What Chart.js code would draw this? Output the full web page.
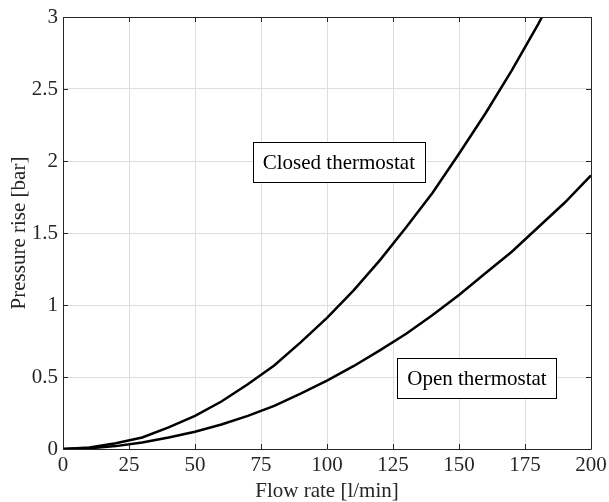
<!DOCTYPE html>
<html>
<head>
<meta charset="utf-8">
<script src="https://cdn.jsdelivr.net/npm/chart.js@4/dist/chart.umd.min.js"></script>
<style>
html,body{margin:0;padding:0;background:#fff;}
#wrap{width:609px;height:502px;}
</style>
</head>
<body>
<div id="wrap"><canvas id="c" width="609" height="502"></canvas></div>
<script>
const flowRate = [0,10,20,30,40,50,60,70,80,90,100,110,120,130,140,150,160,170,180,182];
const closedThermostat = [0,0.01,0.04,0.08,0.15,0.23,0.33,0.45,0.58,0.74,0.91,1.10,1.31,1.54,1.78,2.05,2.33,2.63,2.95,3.02];
const flowRateOpen = [0,10,20,30,40,50,60,70,80,90,100,110,120,130,140,150,160,170,180,190,200];
const openThermostat = [0,0.005,0.02,0.045,0.08,0.12,0.17,0.23,0.30,0.385,0.475,0.575,0.685,0.80,0.93,1.07,1.22,1.37,1.54,1.71,1.9];
const xTicks = [0,25,50,75,100,125,150,175,200];
const yTicks = [0,0.5,1,1.5,2,2.5,3];
const labels = [
  {text:'Closed thermostat', x:104.5, y:1.99},
  {text:'Open thermostat', x:156.8, y:0.49}
];

const FONT = '"Liberation Serif","Times New Roman",serif';
const AXC = '#262626';

const boxPlugin = {
  id:'boxPlugin',
  afterDatasetsDraw(chart){
    const ctx = chart.ctx, a = chart.chartArea;
    const xs = chart.scales.x, ys = chart.scales.y;
    ctx.save();
    ctx.strokeStyle = AXC; ctx.lineWidth = 1;
    ctx.beginPath();
    ctx.rect(Math.round(a.left)+0.5, Math.round(a.top)+0.5, Math.round(a.right-a.left), Math.round(a.bottom-a.top));
    ctx.stroke();
    ctx.beginPath();
    xTicks.forEach(v=>{
      const px = Math.round(xs.getPixelForValue(v))+0.5;
      ctx.moveTo(px,a.bottom); ctx.lineTo(px,a.bottom-5);
      ctx.moveTo(px,a.top); ctx.lineTo(px,a.top+5);
    });
    yTicks.forEach(v=>{
      const py = Math.round(ys.getPixelForValue(v))+0.5;
      ctx.moveTo(a.left,py); ctx.lineTo(a.left+5,py);
      ctx.moveTo(a.right,py); ctx.lineTo(a.right-5,py);
    });
    ctx.stroke();
    ctx.font = '21px '+FONT;
    ctx.textAlign='center'; ctx.textBaseline='middle';
    labels.forEach(l=>{
      const cx = xs.getPixelForValue(l.x), cy = ys.getPixelForValue(l.y);
      const w = ctx.measureText(l.text).width + 20, h = 40;
      ctx.fillStyle='#fff';
      ctx.fillRect(cx-w/2, cy-h/2, w, h);
      ctx.strokeStyle='#000'; ctx.lineWidth=1;
      ctx.strokeRect(Math.round(cx-w/2)+0.5, Math.round(cy-h/2)+0.5, Math.round(w), h);
      ctx.fillStyle='#000';
      ctx.fillText(l.text, cx, cy+1);
    });
    ctx.restore();
  }
};

new Chart(document.getElementById('c'), {
  type:'line',
  data:{
    datasets:[
      {label:'Closed thermostat', data:flowRate.map((x,i)=>({x, y:closedThermostat[i]})), borderColor:'#000', borderWidth:2.5, pointRadius:0, tension:0, fill:false},
      {label:'Open thermostat', data:flowRateOpen.map((x,i)=>({x, y:openThermostat[i]})), borderColor:'#000', borderWidth:2.5, pointRadius:0, tension:0, fill:false}
    ]
  },
  options:{
    responsive:false, animation:false,
    layout:{padding:{left:0,right:18,top:17,bottom:0}},
    plugins:{legend:{display:false}, tooltip:{enabled:false}},
    scales:{
      x:{
        type:'linear', min:0, max:200,
        afterBuildTicks(s){ s.ticks = xTicks.map(v=>({value:v})); },
        afterFit(s){ s.height = 53; s.paddingLeft = 0; s.paddingRight = 0; },
        grid:{color:'#dedede', drawTicks:false},
        border:{display:false},
        ticks:{font:{family:FONT,size:21}, color:AXC, padding:4, maxRotation:0, callback:v=>String(v)},
        title:{display:true, text:'Flow rate [l/min]', font:{family:FONT,size:21,lineHeight:1}, color:AXC, padding:{top:0,bottom:0}}
      },
      y:{
        type:'linear', min:0, max:3,
        afterBuildTicks(s){ s.ticks = yTicks.map(v=>({value:v})); },
        afterFit(s){ s.width = 63; s.paddingTop = 0; s.paddingBottom = 0; },
        grid:{color:'#dedede', drawTicks:false},
        border:{display:false},
        ticks:{font:{family:FONT,size:21}, color:AXC, padding:5, callback:v=>String(v)},
        title:{display:true, text:'Pressure rise [bar]', font:{family:FONT,size:21,lineHeight:1}, color:AXC, padding:{top:9,bottom:0}}
      }
    }
  },
  plugins:[boxPlugin]
});
</script>
</body>
</html>
